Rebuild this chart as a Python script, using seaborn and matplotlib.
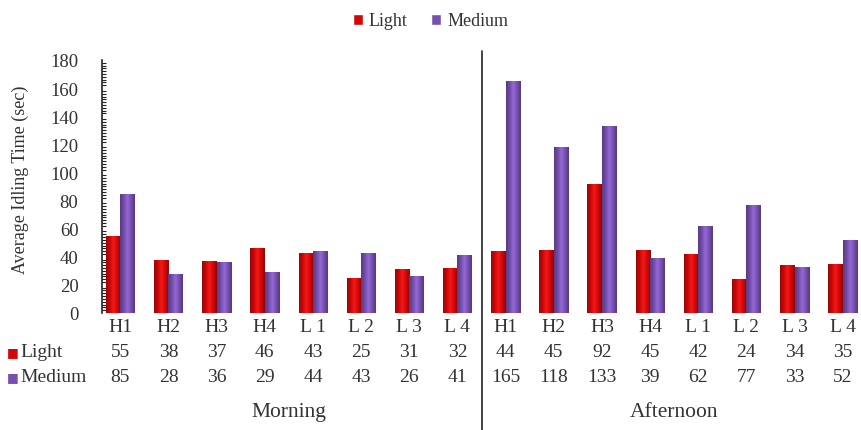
import matplotlib
matplotlib.use("Agg")
import matplotlib.pyplot as plt
from matplotlib.patches import Patch
from matplotlib.ticker import MultipleLocator
from matplotlib.transforms import blended_transform_factory
from matplotlib.colors import LinearSegmentedColormap, to_rgb
import numpy as np
import seaborn as sns
import pandas as pd

# Sites and idling times (sec)
sites = ["H1", "H2", "H3", "H4", "L1", "L2", "L3", "L4"]
periods = ["Morning", "Afternoon"]
light_morning = [55, 38, 37, 46, 43, 25, 31, 32]
medium_morning = [85, 28, 36, 29, 44, 43, 26, 41]
light_afternoon = [44, 45, 92, 45, 42, 24, 34, 35]
medium_afternoon = [165, 118, 133, 39, 62, 77, 33, 52]
site_labels = ["H1", "H2", "H3", "H4", "L 1", "L 2", "L 3", "L 4"]

RED = "#d20808"
PURPLE = "#7850b2"
TXT = "#333333"

light = light_morning + light_afternoon
medium = medium_morning + medium_afternoon
keys = [f"{p} {s}" for p in periods for s in sites]
labels = site_labels * 2

df = pd.DataFrame({
    "key": keys * 2,
    "value": light + medium,
    "traffic": ["Light"] * len(keys) + ["Medium"] * len(keys),
})

sns.set_style("white")
plt.rcParams["font.family"] = ["Liberation Serif", "DejaVu Serif"]

fig = plt.figure(figsize=(8.61, 4.31), dpi=100)
ax = fig.add_axes([0.1185, 0.2715, 0.8815, 0.587])

sns.barplot(data=df, x="key", y="value", hue="traffic", order=keys,
            hue_order=["Light", "Medium"], palette=[RED, PURPLE],
            width=0.6, dodge=True, legend=False, ax=ax,
            edgecolor="none", saturation=1)


def shade_cmap(color):
    """Cylinder-like shading: darker rims, lighter centre."""
    c = np.array(to_rgb(color))
    stops = [c * 0.72, c * 0.95, np.clip(c * 1.12 + 0.06, 0, 1),
             c * 0.98, c * 0.7]
    return LinearSegmentedColormap.from_list("shade", [tuple(s) for s in stops])


grad = np.linspace(0, 1, 64).reshape(1, -1)
for bar in list(ax.patches):
    x0, w, h = bar.get_x(), bar.get_width(), bar.get_height()
    if h <= 0:
        continue
    im = ax.imshow(grad, cmap=shade_cmap(bar.get_facecolor()),
                   extent=[x0, x0 + w, 0, h], aspect="auto",
                   interpolation="bicubic", zorder=bar.get_zorder() + 0.1)
    im.set_clip_path(bar)

ax.set_xlim(-0.38, 15.38)
ax.set_ylim(0, 180)
ax.yaxis.set_major_locator(MultipleLocator(20))
ax.yaxis.set_minor_locator(MultipleLocator(2))
ax.tick_params(axis="y", which="major", direction="inout", length=8,
               width=1, colors="#222222", labelsize=13.5, labelcolor=TXT,
               pad=13)
ax.tick_params(axis="y", which="minor", direction="in", length=3,
               width=0.8, colors="#222222", left=True)
ax.set_xticks([])
ax.set_xlabel("")
ax.set_ylabel("")
for side in ["top", "right", "bottom"]:
    ax.spines[side].set_visible(False)
ax.spines["left"].set_color("#222222")
ax.spines["left"].set_linewidth(1.2)

fig.text(20 / 861, 1 - 180 / 431, "Average Idling Time (sec)", rotation=90,
         ha="center", va="center", fontsize=13, color=TXT)

tr = blended_transform_factory(ax.transData, ax.transAxes)
tr_ax = ax.transAxes

# Data table below the bars
for i, lab in enumerate(labels):
    ax.text(i, -0.055, lab, transform=tr, ha="center", va="center",
            fontsize=14, color=TXT)
    ax.text(i, -0.154, str(light[i]), transform=tr, ha="center",
            va="center", fontsize=14, color=TXT)
    ax.text(i, -0.253, str(medium[i]), transform=tr, ha="center",
            va="center", fontsize=14, color=TXT)

for y, name, col in [(-0.154, "Light", RED), (-0.253, "Medium", PURPLE)]:
    ax.text(-0.117, y, "\u25a0", transform=tr_ax, ha="center", va="center",
            fontsize=9, color=col, family="DejaVu Sans")
    ax.text(-0.107, y, name, transform=tr_ax, ha="left", va="center",
            fontsize=14, color=TXT)

ax.text(3.5, -0.39, periods[0], transform=tr, ha="center", va="center",
        fontsize=15.5, color=TXT)
ax.text(11.5, -0.39, periods[1], transform=tr, ha="center", va="center",
        fontsize=15.5, color=TXT)

# Divider between morning and afternoon
ax.plot([7.5, 7.5], [1.036, -0.47], transform=tr, color="#222222",
        lw=1.2, clip_on=False)

handles = [Patch(facecolor=RED, label="Light"),
           Patch(facecolor=PURPLE, label="Medium")]
fig.legend(handles=handles, loc="center", bbox_to_anchor=(0.5, 0.949),
           ncol=2, frameon=False, fontsize=13, handlelength=0.55,
           handleheight=0.55, handletextpad=0.35, columnspacing=1.3,
           labelcolor=TXT)

fig.savefig("out.png", dpi=100)
